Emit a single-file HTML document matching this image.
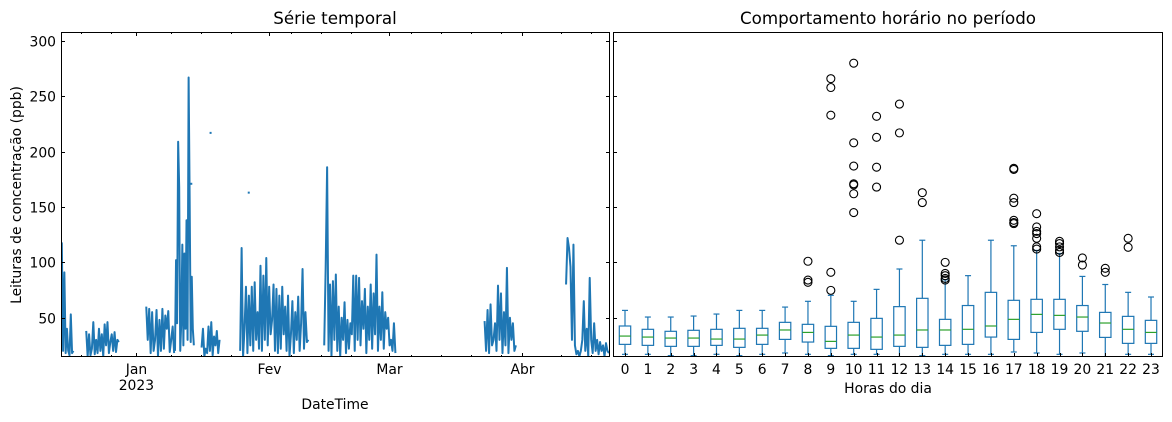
<!DOCTYPE html>
<html><head><meta charset="utf-8">
<style>
html,body{margin:0;padding:0;background:#fff;}
svg{display:block;font-family:"DejaVu Sans","Liberation Sans",sans-serif;}
</style></head>
<body>
<svg id="chart" width="1172" height="422" viewBox="0 0 1172 422"></svg>
<script>
// ---- data: time series segments (start day rel. Jan 1 2023, end day, values ppb) ----
const segStarts = [-17.4, -11.7, 2.3, 9.0, 15.2, 24.2, 43.8, 81.2, 100.2];
const segEnds   = [-14.7, -4.1, 8.8, 13.4, 19.4, 40.1, 60.4, 88.5, 110.2];
const segValues = [
  [118,20,91,18,40,20,16,53,18,20],
  [38,15,35,16,22,46,17,30,18,40,20,35,15,44,25,46,18,28,35,20,37,19,30,28],
  [60,30,58,18,55,20,30,57,15,48,20,58,22,52,40,56,19,30,42,18],
  [20,102,45,209,168,20,46,116,25,108,40,138,30,267,155,28,87,40,25],
  [23,40,15,22,18,42,20,46,16,33,25,38,18,30],
  [20,113,15,40,78,18,70,25,78,20,82,30,55,22,97,20,88,30,104,25,78,35,48,80,20,76,18,70,22,78,35,60,20,70,15,35,65,18,55,30,69,20,45,94,22,55,28,30],
  [25,95,186,20,80,15,83,30,89,20,60,15,50,30,64,18,48,22,45,35,88,20,88,30,86,25,65,40,76,18,60,30,80,22,72,35,107,20,60,30,73,22,55,40,50,25,30,20,45,18],
  [47,20,57,18,62,25,30,45,20,79,30,72,18,55,25,95,18,50,30,45,20,25],
  [80,122,113,96,30,116,25,17,20,15,20,30,65,20,40,15,86,30,18,45,20,30,17,28,20,25,15,27,20,18]
];
const dotDays = [17.3, 26.2, 12.8];
const dotValues = [217, 163, 171];
const monthLabels = ["Jan","Fev","Mar","Abr"];
const monthDays = [0, 31, 59, 90];
const minorDays = [-13,-6,8,15,22,36,43,50,64,71,78,85,99,106];
const yTicks = [50,100,150,200,250,300];
// ---- data: hourly boxplot ----
const hours = [0,1,2,3,4,5,6,7,8,9,10,11,12,13,14,15,16,17,18,19,20,21,22,23];
const whiskLow = [16.9,16.9,15.7,15.7,16.9,15.7,16.9,18.1,16.9,15.7,16.9,16.9,14.8,15.7,16.9,16.9,16.9,19,18.1,16.9,18.1,14.8,16.9,16.9];
const q1 = [25.9,25,24.1,24.1,25,23.2,25.9,30.4,28,22.3,22.3,21.4,24.1,23.2,25,25.9,32.5,30.4,36.7,39.5,37.7,32.2,26.8,26.8];
const med = [33.4,32.5,31.6,31.6,30.7,30.7,34.3,38.9,36.7,28.6,34.3,32.5,34.3,38.9,38.9,39.5,42.5,48.5,53,52.1,50.6,45.2,39.5,36.7];
const q3 = [42.5,39.5,37.7,38.6,39.5,40.4,40.4,45.8,44,42.2,45.8,49.4,60,67.5,48.5,61,72.9,65.7,66.6,66.6,61,54.8,51.2,47.6];
const whiskHigh = [56.6,50.6,50.6,51.5,53.3,56.6,56.6,59.6,64.8,70.2,64.8,75.6,94,120,84.3,88,120,115,110.8,108,87.3,80,72.9,68.7];
const outliers = [[],[],[],[],[],[],[],[],[101,84,82],[266,258,233,91,74.7],[280,208,187,171,170,162,145],[232,213,186,168],[243,217,120],[163,154],[100,90,88,85.5,84],[],[],[185,184,158,154,138,136,135],[144,132,128,126,121.7,114,112],[119,117,114,111,109],[104,97.6],[94.6,91],[121.7,113.6],[]];

const NS="http://www.w3.org/2000/svg";
const svg=document.getElementById('chart');
function mk(tag,attrs,parent){const e=document.createElementNS(NS,tag);for(const k in attrs)e.setAttribute(k,attrs[k]);(parent||svg).appendChild(e);return e;}
const TOP=32,BOT=357,L1=61,R1=610,L2=613,R2=1163;
const yv=v=>317.7-(v-50)*1.1067;
const xd=d=>136.4+d*4.288;
const xh=h=>625+h*22.87;
const BLUE="#1f77b4";

// clip paths
const defs=mk('defs',{});
const c1=mk('clipPath',{id:'clipL'},defs);mk('rect',{x:L1,y:TOP,width:R1-L1,height:BOT-TOP},c1);
const c2=mk('clipPath',{id:'clipR'},defs);mk('rect',{x:L2,y:TOP,width:R2-L2,height:BOT-TOP},c2);

// ---- left panel ----
const gL=mk('g',{'clip-path':'url(#clipL)'});


segValues.forEach((vals,i)=>{
  const s=segStarts[i],e=segEnds[i],n=vals.length;
  const pts=vals.map((v,j)=>xd(s+(e-s)*j/(n-1)).toFixed(2)+','+yv(v).toFixed(2)).join(' ');
  const p=mk('polyline',{points:pts,fill:'none',stroke:BLUE,'stroke-width':2,'stroke-linejoin':'round'},gL);
  
  
});
dotDays.forEach((d,i)=>{
  const c=mk('rect',{x:xd(d)-1,y:yv(dotValues[i])-1,width:2,height:2,fill:BLUE},gL);
  
  
});
// left axes frame
const fL=mk('rect',{x:L1+0.5,y:TOP+0.5,width:R1-L1-1,height:BOT-TOP-1,fill:'none',stroke:'#000','stroke-width':1});


yTicks.forEach(v=>{
  const y=Math.round(yv(v))+0.5;
  mk('line',{x1:L1,x2:L1+4,y1:y,y2:y,stroke:'#000'});
  mk('line',{x1:R1-4,x2:R1,y1:y,y2:y,stroke:'#000'});
  mk('line',{x1:L2,x2:L2+4,y1:y,y2:y,stroke:'#000'});
  const t=mk('text',{x:L1-5,y:y+5,'text-anchor':'end','font-size':13.9});
  t.textContent=v;
  
  
});
monthDays.forEach((d,i)=>{
  const x=Math.round(xd(d))+0.5;
  mk('line',{x1:x,x2:x,y1:BOT-4,y2:BOT,stroke:'#000'});
  mk('line',{x1:x,x2:x,y1:TOP,y2:TOP+4,stroke:'#000'});
  const t=mk('text',{x:x,y:374,'text-anchor':'middle','font-size':13.9});
  t.textContent=monthLabels[i];
  
  
});
minorDays.forEach(d=>{
  const x=Math.round(xd(d))+0.5;
  mk('line',{x1:x,x2:x,y1:BOT-2,y2:BOT,stroke:'#000'});
  mk('line',{x1:x,x2:x,y1:TOP,y2:TOP+2,stroke:'#000'});
});
let t=mk('text',{x:xd(0),y:390,'text-anchor':'middle','font-size':13.9});t.textContent='2023';


t=mk('text',{x:335,y:409,'text-anchor':'middle','font-size':13.9});t.textContent='DateTime';


t=mk('text',{x:21,y:195,'text-anchor':'middle','font-size':13.9,transform:'rotate(-90 21 195)'});t.textContent='Leituras de concentração (ppb)';


t=mk('text',{x:335,y:24,'text-anchor':'middle','font-size':16.7});t.textContent='Série temporal';



// ---- right panel ----
const gR=mk('g',{'clip-path':'url(#clipR)'});


const bw=11.4;
hours.forEach((h,i)=>{
  const x=xh(h);
  const g=mk('g',{},gR);
  
  
  mk('line',{x1:x,x2:x,y1:yv(q3[i]),y2:yv(whiskHigh[i]),stroke:BLUE,'stroke-width':1.2},g);
  mk('line',{x1:x,x2:x,y1:yv(q1[i]),y2:yv(whiskLow[i]),stroke:BLUE,'stroke-width':1.2},g);
  mk('line',{x1:x-3,x2:x+3,y1:yv(whiskHigh[i]),y2:yv(whiskHigh[i]),stroke:BLUE,'stroke-width':1.2},g);
  mk('line',{x1:x-3,x2:x+3,y1:yv(whiskLow[i]),y2:yv(whiskLow[i]),stroke:BLUE,'stroke-width':1.2},g);
  mk('rect',{x:x-bw/2,y:yv(q3[i]),width:bw,height:yv(q1[i])-yv(q3[i]),fill:'none',stroke:BLUE,'stroke-width':1.2},g);
  mk('line',{x1:x-bw/2,x2:x+bw/2,y1:yv(med[i]),y2:yv(med[i]),stroke:'#2ca02c','stroke-width':1.2},g);
  outliers[i].forEach(v=>{
    const c=mk('circle',{cx:x,cy:yv(v),r:4,fill:'none',stroke:'#000','stroke-width':1.1},g);
    
    
  });
  const xt=Math.round(x)+0.5;
  mk('line',{x1:xt,x2:xt,y1:BOT-4,y2:BOT,stroke:'#000'});
  const tl=mk('text',{x:x,y:374,'text-anchor':'middle','font-size':13.9});
  tl.textContent=h;
  
  
});
const fR=mk('rect',{x:L2+0.5,y:TOP+0.5,width:R2-L2-1,height:BOT-TOP-1,fill:'none',stroke:'#000','stroke-width':1});


t=mk('text',{x:888,y:393,'text-anchor':'middle','font-size':13.9});t.textContent='Horas do dia';


t=mk('text',{x:888,y:24,'text-anchor':'middle','font-size':16.7});t.textContent='Comportamento horário no período';


</script>
</body></html>
